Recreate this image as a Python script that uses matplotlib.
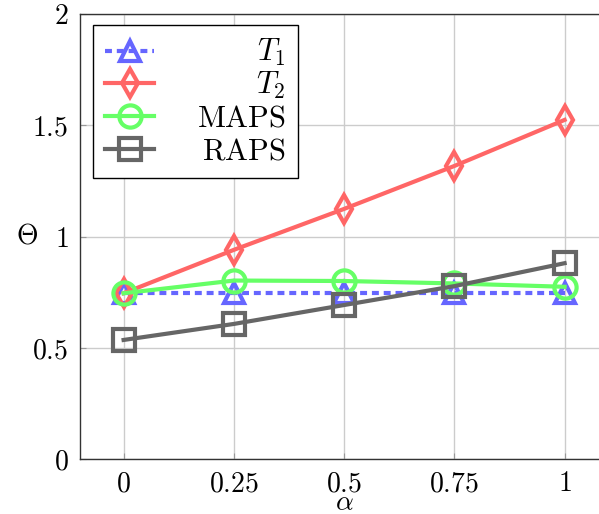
import matplotlib
matplotlib.use('Agg')
import matplotlib.pyplot as plt

plt.rcParams['mathtext.fontset'] = 'cm'
plt.rcParams['font.family'] = 'DejaVu Serif'
plt.rcParams['lines.scale_dashes'] = False

# values
alpha = [0, 0.25, 0.5, 0.75, 1]
t1 = [0.746, 0.746, 0.746, 0.746, 0.746]
t2 = [0.745, 0.94, 1.124, 1.317, 1.524]
maps = [0.745, 0.802, 0.800, 0.789, 0.774]
raps = [0.535, 0.607, 0.692, 0.777, 0.880]

x_ticks = [0, 0.25, 0.5, 0.75, 1]
x_tick_labels = ['$0$', '$0.25$', '$0.5$', '$0.75$', '$1$']
y_ticks = [0, 0.5, 1, 1.5, 2]
y_tick_labels = ['$0$', '$0.5$', '$1$', '$1.5$', '$2$']

blue = '#6666ff'
red = '#ff6666'
green = '#66ff66'
gray = '#666666'

fig = plt.figure(figsize=(5.99, 5.14), dpi=100)
W, H = 599, 514
px_per_x = 441
ax = fig.add_axes([79.5 / W, 55 / H, 1.2 * px_per_x / W, 445 / H])

ax.plot(alpha, t1, color=blue, lw=3, ls=(0, (5, 3.5)), marker='^', ms=15,
        mfc='none', mec=blue, mew=3, label='$T_1$')
ax.plot(alpha, t2, color=red, lw=3, marker='d', ms=14,
        mfc='none', mec=red, mew=3, label='$T_2$')
ax.plot(alpha, maps, color=green, lw=3, marker='o', ms=16,
        mfc='none', mec=green, mew=3, label=r'$\mathrm{MAPS}$')
ax.plot(alpha, raps, color=gray, lw=3, marker='s', ms=16,
        mfc='none', mec=gray, mew=3, label=r'$\mathrm{RAPS}$')

ax.set_xlim(-0.1, 1.1)
ax.set_ylim(0, 2)
ax.set_xticks(x_ticks)
ax.set_xticklabels(x_tick_labels, fontsize=20)
ax.set_yticks(y_ticks)
ax.set_yticklabels(y_tick_labels, fontsize=20)
ax.tick_params(direction='in', length=4, color='#999999', pad=8)
ax.grid(True, color='#cccccc', lw=1)
ax.set_axisbelow(True)
for s in ax.spines.values():
    s.set_color('#333333')
    s.set_linewidth(1)

ax.set_xlabel(r'$\alpha$', fontsize=20, labelpad=-6)
ax.set_ylabel(r'$\Theta$', fontsize=20, rotation=0, labelpad=4, va='center')

leg = ax.legend(loc='upper left', bbox_to_anchor=(93 / W, 1 - 25 / H),
                bbox_transform=fig.transFigure, borderaxespad=0,
                fontsize=22, frameon=True, fancybox=False, framealpha=1,
                edgecolor='black', handlelength=1.6, handletextpad=1.4,
                labelspacing=0.05, borderpad=0.4)
leg.get_frame().set_linewidth(1)

# right-align the legend labels like pgfplots does
fig.canvas.draw()
texts = leg.get_texts()
widths = [t.get_window_extent().width for t in texts]
widest = max(widths)
for t, w in zip(texts, widths):
    t.set_position((widest - w, 0))

fig.savefig('out.png', dpi=100)
